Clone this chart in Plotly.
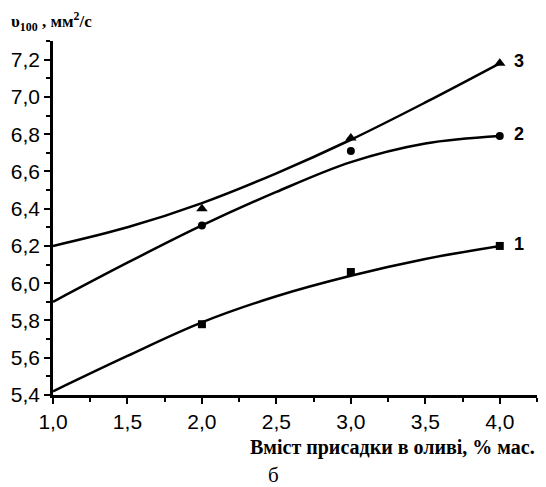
import plotly.graph_objects as go

# measured points
x_pts = [2.0, 3.0, 4.0]
y1_pts = [5.78, 6.06, 6.20]
y2_pts = [6.31, 6.71, 6.79]
y3_pts = [6.40, 6.78, 7.18]

# fitted curves
x_curve = [1.0, 1.5, 2.0, 2.5, 3.0, 3.5, 4.0]
y1_curve = [5.42, 5.61, 5.79, 5.93, 6.04, 6.13, 6.20]
y2_curve = [5.90, 6.11, 6.31, 6.49, 6.65, 6.75, 6.79]
y3_curve = [6.20, 6.30, 6.43, 6.59, 6.77, 6.97, 7.18]

curve_labels = ["1", "2", "3"]
label_y = [6.21, 6.80, 7.19]

fig = go.Figure()
line_style = dict(color="black", width=2.5, shape="spline", smoothing=1.0)
for yc in (y1_curve, y2_curve, y3_curve):
    fig.add_trace(go.Scatter(x=x_curve, y=yc, mode="lines", line=line_style,
                             showlegend=False, hoverinfo="skip"))

for yp, sym, sz in ((y1_pts, "square", 8), (y2_pts, "circle", 8), (y3_pts, "triangle-up", 10)):
    fig.add_trace(go.Scatter(x=x_pts, y=yp, mode="markers",
                             marker=dict(symbol=sym, size=sz, color="black"),
                             showlegend=False, cliponaxis=False))

for lab, ly in zip(curve_labels, label_y):
    fig.add_annotation(x=4.08, y=ly, text="<b>" + lab + "</b>", showarrow=False,
                       xanchor="left", yanchor="middle",
                       font=dict(family="Liberation Sans, Arial", size=18, color="black"))

axis_common = dict(
    showgrid=False, zeroline=False, showline=True, linecolor="black", linewidth=2.5,
    ticks="outside", ticklen=6, tickwidth=2, tickcolor="black",
    tickfont=dict(family="Liberation Sans, Arial", size=21, color="black"),
    tickformat=".1f", automargin=False,
)
fig.update_xaxes(range=[1.0, 4.25], dtick=0.5, tick0=1.0,
                 minor=dict(dtick=0.25, ticks="outside", ticklen=4, tickwidth=2, tickcolor="black"),
                 **axis_common)
fig.update_yaxes(range=[5.4, 7.3], dtick=0.2, tick0=5.4,
                 minor=dict(dtick=0.1, ticks="outside", ticklen=4, tickwidth=2, tickcolor="black"),
                 **axis_common)

fig.add_annotation(xref="paper", yref="paper", x=1.0, y=-0.147, xanchor="right", yanchor="middle",
                   text="<b>Вміст присадки в оливі, % мас.</b>", showarrow=False,
                   font=dict(family="Liberation Serif, Times New Roman", size=20, color="black"))
fig.add_annotation(xref="paper", yref="paper", x=0.455, y=-0.226, xanchor="center", yanchor="middle",
                   text="б", showarrow=False,
                   font=dict(family="Liberation Serif, Times New Roman", size=21, color="black"))
fig.add_annotation(xref="paper", yref="paper", x=-0.09, y=1.055, xanchor="left", yanchor="middle",
                   text="<b>υ<sub>100</sub> , мм<sup>2</sup>/с</b>", showarrow=False,
                   font=dict(family="Liberation Serif, Times New Roman", size=17, color="black"))

fig.update_layout(
    width=546, height=487,
    margin=dict(l=53, r=9, t=41, b=92, autoexpand=False),
    paper_bgcolor="white", plot_bgcolor="white",
    separators=", ",
)
fig.write_html("out.html", config={"displayModeBar": False},
               post_script="document.body.style.margin='0';document.body.style.overflow='hidden';")
